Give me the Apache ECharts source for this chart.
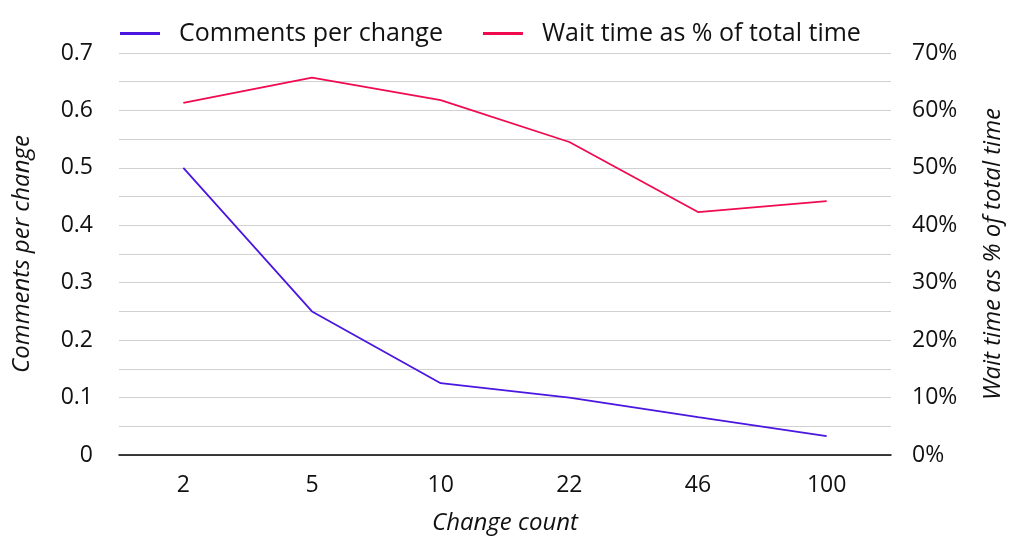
<!DOCTYPE html>
<html><head><meta charset="utf-8">
<script src="https://cdn.jsdelivr.net/npm/echarts@6/dist/echarts.min.js"></script>
<style>html,body{margin:0;padding:0;background:#fff}#c{width:1024px;height:546px}</style>
</head><body><div id="c"></div>
<script>
var categories = ['2','5','10','22','46','100'];
var commentsPerChange = [0.5, 0.25, 0.125, 0.1, 0.066, 0.033];
var waitTimePct = [0.613, 0.657, 0.618, 0.545, 0.423, 0.442];
var leftTicks = [0, 0.1, 0.2, 0.3, 0.4, 0.5, 0.6, 0.7];

var font = 'Open Sans';
var chart = echarts.init(document.getElementById('c'), null, {renderer:'canvas'});
chart.setOption({
  animation:false,
  textStyle:{fontFamily:font},
  legend:{
    top:16, left:115, itemWidth:40, itemHeight:3, itemGap:40,
    icon:'rect',
    textStyle:{fontFamily:font, fontSize:25, color:'#111', padding:[0,0,0,14]},
    data:['Comments per change','Wait time as % of total time']
  },
  grid:{left:119, right:133, top:53, bottom:91},
  xAxis:{
    type:'category', data:categories, boundaryGap:true,
    name:'Change count', nameLocation:'middle', nameGap:56,
    nameTextStyle:{fontFamily:font, fontSize:24, fontStyle:'italic', color:'#111'},
    axisLine:{lineStyle:{color:'#000', width:1.5}},
    axisTick:{show:false},
    axisLabel:{fontFamily:font, fontSize:23, color:'#111', margin:19}
  },
  yAxis:[{
    type:'value', min:leftTicks[0], max:leftTicks[leftTicks.length-1], interval:0.1,
    name:'Comments per change', nameLocation:'middle', nameGap:85, nameRotate:90,
    nameTextStyle:{fontFamily:font, fontSize:24, fontStyle:'italic', color:'#111'},
    axisLine:{show:false}, axisTick:{show:false},
    axisLabel:{fontFamily:font, fontSize:23, color:'#111', margin:26},
    splitLine:{lineStyle:{color:'#d0d0d0', width:1}},
    minorTick:{show:false, splitNumber:2},
    minorSplitLine:{show:true, lineStyle:{color:'#d0d0d0', width:1}}
  },{
    type:'value', min:0, max:0.7, interval:0.1, position:'right',
    name:'Wait time as % of total time', nameLocation:'middle', nameGap:90, nameRotate:90,
    nameTextStyle:{fontFamily:font, fontSize:24, fontStyle:'italic', color:'#111'},
    axisLine:{show:false}, axisTick:{show:false},
    axisLabel:{fontFamily:font, fontSize:23, color:'#111', margin:21,
      formatter:function(v){return Math.round(v*100)+'%';}},
    splitLine:{show:false}
  }],
  series:[{
    name:'Comments per change', type:'line', data:commentsPerChange,
    yAxisIndex:0, symbol:'none', color:'#4a16e0', lineStyle:{width:1.8, color:'#4a16e0'}
  },{
    name:'Wait time as % of total time', type:'line', data:waitTimePct,
    yAxisIndex:1, symbol:'none', color:'#f00a50', lineStyle:{width:1.8, color:'#f00a50'}
  }]
});
</script></body></html>
